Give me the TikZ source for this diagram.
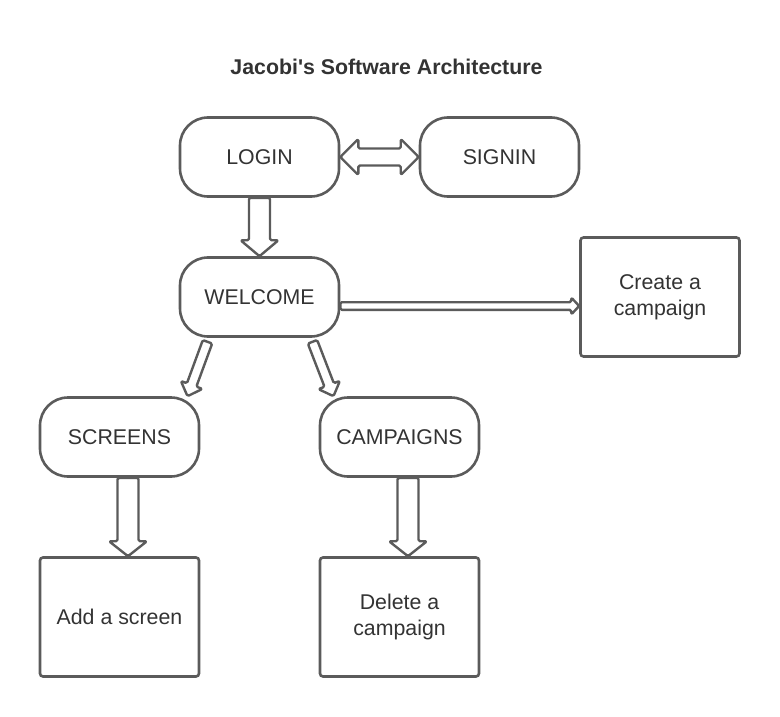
\documentclass[tikz,border=0pt]{standalone}
\usepackage{fontspec}
\setmainfont{Liberation Sans}
\usetikzlibrary{calc}
\definecolor{linegray}{HTML}{5B5B5B}
\definecolor{textgray}{HTML}{333333}
\tikzset{
  base/.style={draw=linegray, line width=2.6pt, text=textgray, font=\fontsize{21.33}{25.6}\selectfont, align=center, fill=white},
  pill/.style={base, rounded corners=28pt, minimum width=159pt, minimum height=79pt},
  box/.style={base, rounded corners=3pt, minimum width=159pt, minimum height=119pt},
  fatline/.style={draw=linegray, line width=2.4pt, fill=white, rounded corners=1.5pt, line join=round},
  titlefont/.style={text=textgray, font=\fontsize{21.33}{25.6}\selectfont\bfseries}
}
% single fat arrow: start, end, shaft half-width, head half-width, head length
\newcommand\fatarrow[5]{%
  \coordinate (faA) at #1;
  \coordinate (faB) at #2;
  \coordinate (faS) at ($(faB)!#5!(faA)$);
  \draw[fatline] ($(faA)!#3!90:(faB)$) -- ($(faS)!#3!-90:(faA)$) -- ($(faS)!#4!-90:(faA)$) -- (faB)
     -- ($(faS)!#4!90:(faA)$) -- ($(faS)!#3!90:(faA)$) -- ($(faA)!#3!-90:(faB)$) -- cycle;
}
% double fat arrow
\newcommand\fatdarrow[5]{%
  \coordinate (faA) at #1;
  \coordinate (faB) at #2;
  \coordinate (faS) at ($(faA)!#5!(faB)$);
  \coordinate (faT) at ($(faB)!#5!(faA)$);
  \draw[fatline] (faA) -- ($(faS)!#4!90:(faB)$) -- ($(faS)!#3!90:(faB)$) -- ($(faT)!#3!-90:(faA)$)
     -- ($(faT)!#4!-90:(faA)$) -- (faB) -- ($(faT)!#4!90:(faA)$) -- ($(faT)!#3!90:(faA)$)
     -- ($(faS)!#3!-90:(faB)$) -- ($(faS)!#4!-90:(faB)$) -- cycle;
}
\begin{document}
\begin{tikzpicture}[x=1pt, y=-1pt]
\fill[white] (0,0) rectangle (780,717);
\useasboundingbox (0,0) rectangle (780,717);

\node[titlefont] (title) at (386.5,67) {Jacobi\textquotesingle s Software Architecture};

\node[pill] (login) at (259.5,157) {LOGIN};
\node[pill] (signin) at (499.5,157) {SIGNIN};
\node[pill] (welcome) at (259.5,297) {WELCOME};
\node[pill] (screens) at (119.5,437) {SCREENS};
\node[pill] (campaigns) at (399.5,437) {CAMPAIGNS};
\node[box] (create) at (660,297) {Create a\\campaign};
\node[box] (add) at (119.5,617) {Add a screen};
\node[box] (delete) at (399.5,617) {Delete a\\campaign};

\fatdarrow{(login.east)}{(signin.west)}{8.5pt}{18pt}{18pt}
\fatarrow{(login.south)}{(welcome.north)}{10.5pt}{19pt}{16pt}
\fatarrow{($(welcome.south)+(-52,4)$)}{($(screens.north)+(68,0)$)}{5pt}{11.5pt}{12pt}
\fatarrow{($(welcome.south)+(53,4)$)}{($(campaigns.north)+(-66,0)$)}{5pt}{11.5pt}{12pt}
\fatarrow{($(welcome.east)+(0,9)$)}{($(create.west)+(0,9)$)}{3.8pt}{8.5pt}{8pt}
\fatarrow{($(screens.south)+(8.5,0)$)}{($(add.north)+(8.5,0)$)}{10.5pt}{19pt}{15pt}
\fatarrow{($(campaigns.south)+(8.5,0)$)}{($(delete.north)+(8.5,0)$)}{10.5pt}{19pt}{15pt}
\end{tikzpicture}
\end{document}
